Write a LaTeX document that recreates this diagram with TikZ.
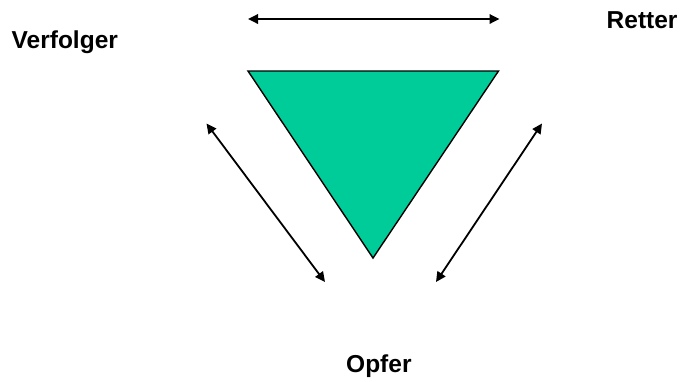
\documentclass[tikz,border=0pt]{standalone}
\usepackage{fontspec}
\setmainfont{Liberation Sans}
\usetikzlibrary{arrows.meta}
\definecolor{tri}{RGB}{0,204,153}
\tikzset{
  lbl/.style={anchor=base west, inner sep=0pt, font=\fontsize{24.5}{29}\selectfont\bfseries},
  rel/.style={line width=1.8pt, {Triangle[length=10pt,width=9.5pt]}-{Triangle[length=10pt,width=9.5pt]}},
  pt/.style={coordinate}
}
\begin{document}
\begin{tikzpicture}[x=1pt,y=-1pt]
\useasboundingbox (0,0) rectangle (681,381);
\node[lbl] (verf) at (11.5,48.5) {Verfolger};
\node[lbl] (rett) at (606.5,28) {Retter};
\node[lbl] (opf) at (346,372.5) {Opfer};
\coordinate (tl) at (248,71);
\coordinate (tr) at (498.5,71);
\coordinate (tb) at (373,258);
\filldraw[fill=tri, draw=black, line width=1.4pt, line join=miter] (tl) -- (tr) -- (tb) -- cycle;
\coordinate (a1) at (248,19);
\coordinate (a2) at (499.5,19);
\coordinate (b1) at (206.5,123.5);
\coordinate (b2) at (325,282);
\coordinate (c1) at (542,123.5);
\coordinate (c2) at (436,282);
\draw[rel] (a1) -- (a2);
\draw[rel] (b1) -- (b2);
\draw[rel] (c1) -- (c2);
\end{tikzpicture}
\end{document}
